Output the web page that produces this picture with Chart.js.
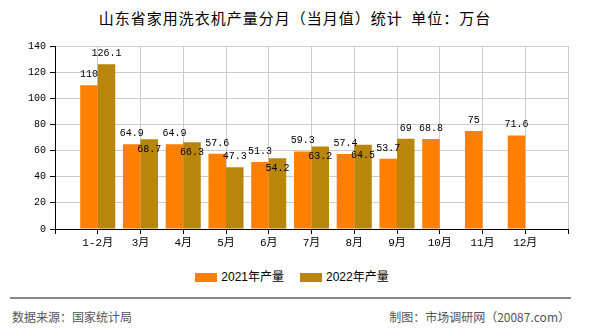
<!DOCTYPE html>
<html>
<head>
<meta charset="utf-8">
<script src="https://cdn.jsdelivr.net/npm/chart.js@4/dist/chart.umd.min.js"></script>
<style>
  body { margin: 0; background: #fff; }
  #wrap { position: relative; width: 590px; height: 330px; overflow: hidden; font-family: "Liberation Sans", "Noto Sans CJK SC", sans-serif; }
  #title { position: absolute; left: 0; top: 9px; width: 590px; text-align: center; font-size: 15px; letter-spacing: 1px; color: #000; line-height: 18px; font-family: "Noto Sans CJK SC", sans-serif; }
  #chart { position: absolute; left: 0; top: 0; }
  #legend { position: absolute; left: 0; top: 269px; width: 584px; display: flex; justify-content: center; font-size: 12px; line-height: 16px; }
  #legend .item { display: flex; align-items: center; margin: 0 8px; }
  #legend .box { width: 22px; height: 9px; margin-right: 4px; }
  #rule { position: absolute; left: 10px; top: 297px; width: 561px; height: 0; border-top: 2px solid #888; }
  .foot { position: absolute; top: 309px; font-size: 12px; color: #555; line-height: 16px; font-family: "Noto Sans CJK SC", sans-serif; }
</style>
</head>
<body>
<div id="wrap">
  <div id="title">山东省家用洗衣机产量分月（当月值）统计&nbsp; 单位：万台</div>
  <canvas id="chart" width="590" height="260"></canvas>
  <div id="legend"></div>
  <div id="rule"></div>
  <div class="foot" style="left:12px">数据来源：国家统计局</div>
  <div class="foot" style="right:20px">制图：市场调研网（20087.com）</div>
</div>
<script>
// Monthly output, 10k units
const categories = ['1-2月', '3月', '4月', '5月', '6月', '7月', '8月', '9月', '10月', '11月', '12月'];
const output2021 = [110, 64.9, 64.9, 57.6, 51.3, 59.3, 57.4, 53.7, 68.8, 75, 71.6];
const output2022 = [126.1, 68.7, 66.3, 47.3, 54.2, 63.2, 64.5, 69, null, null, null];
const seriesNames = ['2021年产量', '2022年产量'];
const seriesColors = ['#FF8000', '#B8860B'];
const yMin = 0, yMax = 140, yStep = 20;

// pad both ends with an empty slot so the groups sit between gridlines
const padded = arr => [null, ...arr, null];

/**
 * Prints each bar's value over its top; a 2022 label that would collide
 * with the 2021 label next to it drops inside the bar instead.
 */
const valueLabels = {
    id: 'valueLabels',
    afterDatasetsDraw(chart) {
        const ctx = chart.ctx;
        const ds = chart.data.datasets;
        const m0 = chart.getDatasetMeta(0);
        const m1 = chart.getDatasetMeta(1);
        ctx.save();
        ctx.font = '10px "Liberation Mono", monospace';
        ctx.fillStyle = '#000';
        ctx.textAlign = 'center';
        ctx.textBaseline = 'alphabetic';
        m0.data.forEach((bar, i) => {
            const v = ds[0].data[i];
            if (v == null) return;
            ctx.fillText(String(v), bar.x, bar.y - 8);
        });
        m1.data.forEach((bar, i) => {
            const v = ds[1].data[i];
            if (v == null) return;
            let y = bar.y - 8;
            const ov = ds[0].data[i];
            if (ov != null && Math.abs((m0.data[i].y - 8) - y) < 12) {
                y = bar.y + 13;
            }
            ctx.fillText(String(v), bar.x, y);
        });
        ctx.restore();
    }
};

const datasets = [output2021, output2022].map((values, k) => ({
    label: seriesNames[k],
    data: padded(values),
    backgroundColor: seriesColors[k],
    borderWidth: 0,
    categoryPercentage: 0.82,
    barPercentage: 1.0
}));

new Chart(document.getElementById('chart'), {
    type: 'bar',
    data: {
        labels: ['', ...categories, ''],
        datasets: datasets
    },
    options: {
        responsive: false,
        animation: false,
        devicePixelRatio: 1,
        layout: { padding: { top: 46, right: 22, left: 0, bottom: 0 } },
        plugins: {
            legend: { display: false },
            title: { display: false },
            tooltip: { enabled: false }
        },
        scales: {
            x: {
                offset: false,
                grid: {
                    offset: false,
                    color: '#cccccc',
                    tickColor: '#000',
                    tickLength: 5
                },
                border: { color: '#000', width: 1 },
                ticks: {
                    color: '#000',
                    padding: 2,
                    maxRotation: 0,
                    autoSkip: false,
                    font: { family: '"Liberation Mono", "Noto Sans CJK SC"', size: 11 }
                },
                afterFit(scale) { scale.height = 31; }
            },
            y: {
                min: yMin,
                max: yMax,
                grid: {
                    color: '#cccccc',
                    tickColor: '#000',
                    tickLength: 5
                },
                border: { color: '#000', width: 1 },
                ticks: {
                    stepSize: yStep,
                    color: '#000',
                    padding: 4,
                    font: { family: '"Liberation Mono", monospace', size: 10 }
                },
                afterFit(scale) { scale.width = 55; }
            }
        }
    },
    plugins: [valueLabels]
});

// legend built from the same series names and colours
const legend = document.getElementById('legend');
seriesNames.forEach((name, k) => {
    const item = document.createElement('div');
    item.className = 'item';
    const box = document.createElement('span');
    box.className = 'box';
    box.style.background = seriesColors[k];
    const text = document.createElement('span');
    text.textContent = name;
    item.appendChild(box);
    item.appendChild(text);
    legend.appendChild(item);
});
</script>
</body>
</html>
